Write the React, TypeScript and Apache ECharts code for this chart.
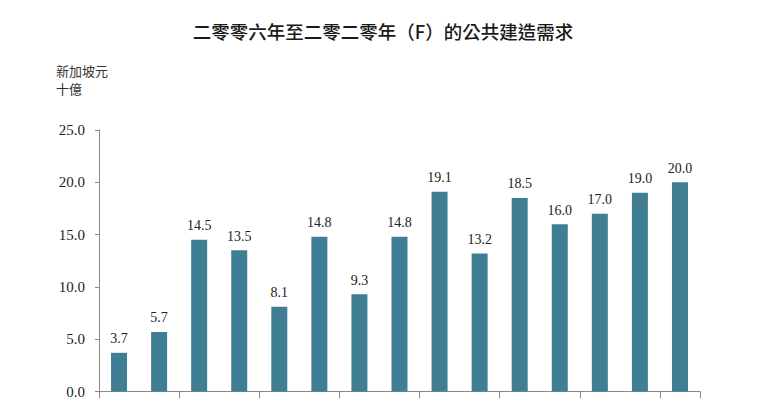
import React, { useEffect, useRef } from "react";
import * as echarts from "echarts";

const TITLE = "二零零六年至二零二零年（F）的公共建造需求";
const Y_NAME = "新加坡元\n十億";
const categories = [
  "2006", "2007", "2008", "2009", "2010", "2011", "2012", "2013",
  "2014", "2015", "2016", "2017", "2018", "2019", "2020F",
];
const values = [3.7, 5.7, 14.5, 13.5, 8.1, 14.8, 9.3, 14.8, 19.1, 13.2, 18.5, 16.0, 17.0, 19.0, 20.0];
const yMin = 0;
const yMax = 25;
const yInterval = 5;

const SERIF = "'Liberation Serif', 'DejaVu Serif', serif";
const CJK = "'Noto Sans CJK TC', 'Noto Sans CJK SC', sans-serif";

export default function App() {
  const ref = useRef<HTMLDivElement>(null);
  useEffect(() => {
    if (!ref.current) return;
    const chart = echarts.init(ref.current, undefined, { renderer: "svg" });
    chart.setOption({
      animation: false,
      backgroundColor: "#ffffff",
      title: {
        text: TITLE,
        left: "center",
        top: 17,
        textStyle: {
          fontFamily: CJK,
          fontSize: 18.5,
          fontWeight: 500,
          color: "#1a1a1a",
        },
      },
      grid: { left: 99, right: 66, top: 130, bottom: 7 },
      xAxis: {
        type: "category",
        data: categories,
        boundaryGap: true,
        axisLine: { lineStyle: { color: "#8a8a8a", width: 1 } },
        axisTick: { show: true, alignWithLabel: false, length: 7, lineStyle: { color: "#8a8a8a" } },
        axisLabel: { show: false },
      },
      yAxis: {
        type: "value",
        min: yMin,
        max: yMax,
        interval: yInterval,
        name: Y_NAME,
        nameLocation: "end",
        nameGap: 0,
        nameTextStyle: {
          fontFamily: CJK,
          fontSize: 13,
          color: "#333",
          align: "left",
          verticalAlign: "bottom",
          lineHeight: 18,
          padding: [0, 0, 25, -43],
        },
        splitLine: { show: false },
        axisLine: { show: true, lineStyle: { color: "#8a8a8a", width: 1 } },
        axisTick: { show: true, length: 4, lineStyle: { color: "#8a8a8a" } },
        axisLabel: {
          formatter: (v: number) => v.toFixed(1),
          fontFamily: SERIF,
          fontSize: 15,
          color: "#222",
          margin: 14,
        },
      },
      series: [
        {
          type: "bar",
          data: values,
          barWidth: 16,
          itemStyle: { color: "#3f7e93" },
          label: {
            show: true,
            position: "top",
            distance: 7,
            formatter: (p: any) => Number(p.value).toFixed(1),
            fontFamily: SERIF,
            fontSize: 14,
            color: "#222",
          },
        },
      ],
    });
    return () => chart.dispose();
  }, []);
  return (
    <div
      ref={ref}
      style={{ position: "fixed", left: 0, top: 0, width: 766, height: 399 }}
    />
  );
}
